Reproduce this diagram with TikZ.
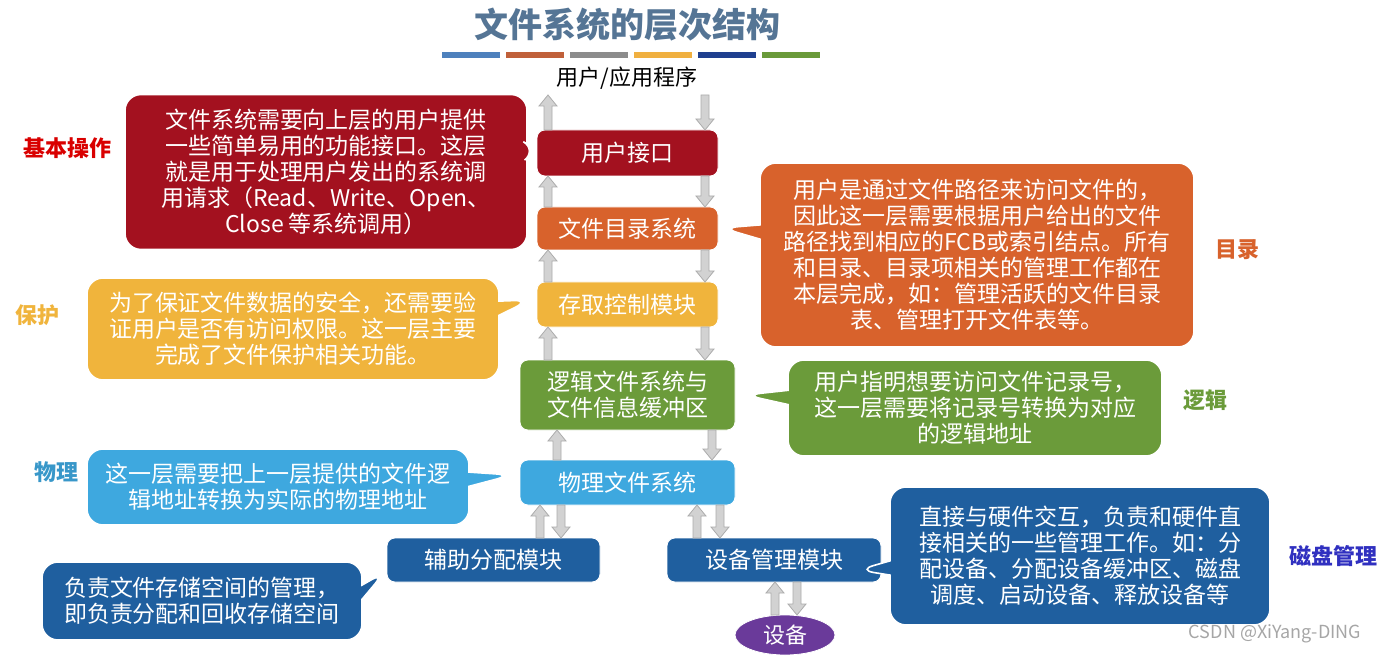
\documentclass[tikz,border=0pt]{standalone}
\usepackage{fontspec}
\setmainfont{Noto Sans CJK SC}
\usepackage{xcolor}
\usetikzlibrary{shapes.callouts,shapes.geometric,arrows.meta}
\definecolor{cred}{HTML}{A3111F}
\definecolor{corange}{HTML}{D8622C}
\definecolor{cgold}{HTML}{F0B43C}
\definecolor{cgreen}{HTML}{6B9B3A}
\definecolor{clblue}{HTML}{3EA8DF}
\definecolor{cblue}{HTML}{1F5F9F}
\definecolor{cpurple}{HTML}{6A3A9A}
\definecolor{ctitle}{HTML}{557595}
\tikzset{
  layer/.style={rectangle,rounded corners=4pt,draw=white,text=white,font=\fontsize{11.5}{13}\selectfont,inner sep=0pt},
  note/.style={rectangle callout,rounded corners=8pt,draw=white,thick,text=white,align=center,
    font=\fontsize{11.5}{13}\selectfont,inner sep=1pt},
  side/.style={font=\fontsize{11}{12}\selectfont\bfseries},
}
\newcommand{\uparr}[3]{% x, y bottom, y top
  \fill[gray!35,draw=gray!65] (#1-4,#2) -- (#1-4,#3+11) -- (#1-9,#3+11) -- (#1,#3) -- (#1+9,#3+11) -- (#1+4,#3+11) -- (#1+4,#2) -- cycle;}
\newcommand{\dnarr}[3]{% x, y top, y bottom
  \fill[gray!35,draw=gray!65] (#1-4,#2) -- (#1-4,#3-11) -- (#1-9,#3-11) -- (#1,#3) -- (#1+9,#3-11) -- (#1+4,#3-11) -- (#1+4,#2) -- cycle;}
\begin{document}
\begin{tikzpicture}[x=0.5pt,y=-0.5pt]
\useasboundingbox[fill=white] (0,0) rectangle (1389,658);
% title
\node[text=ctitle,font=\fontsize{17}{19}\selectfont\bfseries] (title) at (627,25) {文件系统的层次结构};
\foreach \c [count=\i from 0] in {4E81BD,C0603A,8C8C8C,F0B040,1F3F8F,6A9A3A}{
  \definecolor{bar}{HTML}{\c}
  \fill[bar] (442+\i*64,52) rectangle (500+\i*64,58);}
\node[font=\fontsize{11}{12}\selectfont] (app) at (627,78) {用户/应用程序};
% layers
\node[layer,fill=cred,minimum width=90.5pt,minimum height=23pt] (ui) at (627.5,153) {用户接口};
\node[layer,fill=corange,minimum width=90.5pt,minimum height=21.5pt] (dir) at (627.5,228.5) {文件目录系统};
\node[layer,fill=cgold,minimum width=90.5pt,minimum height=22.5pt] (acc) at (627.5,304.5) {存取控制模块};
\node[layer,fill=cgreen,minimum width=107.5pt,minimum height=35pt,align=center] (log) at (627.5,395) {逻辑文件系统与\\文件信息缓冲区};
\node[layer,fill=clblue,minimum width=107.5pt,minimum height=22.5pt] (phy) at (627.5,482.5) {物理文件系统};
\node[layer,fill=cblue,minimum width=106.5pt,minimum height=22pt] (aux) at (493.5,560) {辅助分配模块};
\node[layer,fill=cblue,minimum width=107pt,minimum height=22pt] (dev) at (774,560) {设备管理模块};
\node[ellipse,draw=white,fill=cpurple,text=white,minimum width=50pt,minimum height=20pt,inner sep=0pt,
  font=\fontsize{11}{12}\selectfont] (disk) at (785,635) {设备};
% arrows
\uparr{548}{130}{95} \dnarr{705}{95}{130}
\uparr{548}{207}{176} \dnarr{705}{176}{207}
\uparr{548}{282}{250} \dnarr{705}{250}{282}
\uparr{548}{360}{327} \dnarr{705}{327}{360}
\uparr{557}{460}{430} \dnarr{712}{430}{460}
\uparr{540}{538}{505} \dnarr{561}{505}{538}
\uparr{697}{538}{505} \dnarr{720}{505}{538}
\uparr{775}{615}{582} \dnarr{797}{582}{615}
% notes
\node[note,fill=cred,minimum width=201pt,minimum height=77.5pt,callout absolute pointer={(537,150)}] (n1) at (326,172)
  {文件系统需要向上层的用户提供\\一些简单易用的功能接口。这层\\就是用于处理用户发出的系统调\\用请求（Read、Write、Open、\\Close 等系统调用）};
\node[note,fill=corange,minimum width=217pt,minimum height=92pt,callout absolute pointer={(722,228)}] (n2) at (977,255)
  {用户是通过文件路径来访问文件的，\\因此这一层需要根据用户给出的文件\\路径找到相应的FCB或索引结点。所有\\和目录、目录项相关的管理工作都在\\本层完成，如：管理活跃的文件目录\\表、管理打开文件表等。};
\node[note,fill=cgold,minimum width=206pt,minimum height=51pt,callout absolute pointer={(530,300)}] (n3) at (293,329)
  {为了保证文件数据的安全，还需要验\\证用户是否有访问权限。这一层主要\\完成了文件保护相关功能。};
\node[note,fill=cgreen,minimum width=187pt,minimum height=48pt,callout absolute pointer={(745,395)}] (n4) at (975,408)
  {用户指明想要访问文件记录号，\\这一层需要将记录号转换为对应\\的逻辑地址};
\node[note,fill=clblue,minimum width=191pt,minimum height=38pt,callout absolute pointer={(512,475)}] (n5) at (278,487)
  {这一层需要把上一层提供的文件逻\\辑地址转换为实际的物理地址};
\node[note,fill=cblue,minimum width=160pt,minimum height=39pt,callout absolute pointer={(385,572)}] (n6) at (202,601)
  {负责文件存储空间的管理，\\即负责分配和回收存储空间};
\node[note,fill=cblue,minimum width=190pt,minimum height=69pt,callout absolute pointer={(858,570)}] (n7) at (1080,556)
  {直接与硬件交互，负责和硬件直\\接相关的一些管理工作。如：分\\配设备、分配设备缓冲区、磁盘\\调度、启动设备、释放设备等};
% side labels
\node[side,text=red!85!black] (s1) at (68,148) {基本操作};
\node[side,text=cgold] (s2) at (38,315) {保护};
\node[side,text=clblue!90!black] (s3) at (56,472) {物理};
\node[side,text=corange] (s4) at (1237,250) {目录};
\node[side,text=cgreen] (s5) at (1205,400) {逻辑};
\node[side,text={rgb,255:red,48;green,48;blue,192}] (s6) at (1333,556) {磁盘管理};
\node[text=gray!70,font=\fontsize{9}{10}\selectfont] (wm) at (1275,634) {CSDN @XiYang-DING};
\end{tikzpicture}
\end{document}
